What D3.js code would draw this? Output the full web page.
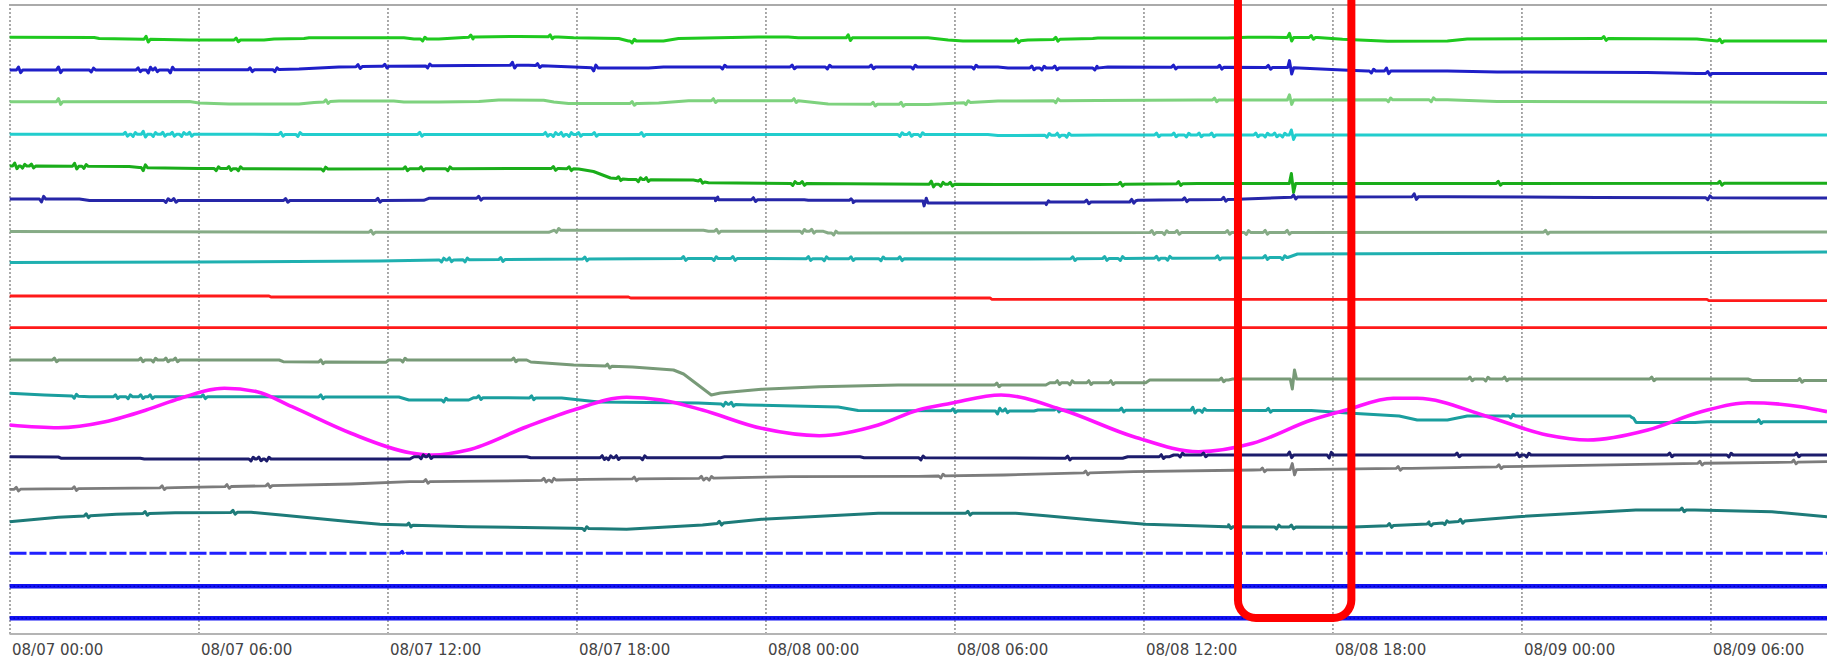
<!DOCTYPE html>
<html><head><meta charset="utf-8">
<script src="https://cdn.jsdelivr.net/npm/d3@7/dist/d3.min.js"></script>
<style>html,body{margin:0;padding:0;background:#fff;}svg{display:block;}</style>
</head><body>
<svg id="chart" width="1827" height="660"></svg>
<script>
// ---------- DATA (hours since 08/07 00:00, signal level) ----------
const tickHours = [0, 6, 12, 18, 24, 30, 36, 42, 48, 54];
const tickLabels = ["08/07 00:00","08/07 06:00","08/07 12:00","08/07 18:00","08/08 00:00","08/08 06:00","08/08 12:00","08/08 18:00","08/09 00:00","08/09 06:00"];
const highlightHours = [39.0, 42.6];
const highlightLevels = [16, 660];

const s01 = [[0,596.7],[2.69,596.5],[2.85,595.5],[5.71,594],[8.08,594],[8.4,595],[9.35,595.5],[9.51,596.3],[12.52,596.3],[12.84,595],[13.63,595],[14.42,596.5],[14.74,597],[16.17,597.5],[17.43,597],[17.91,596.2],[19.34,595.5],[19.65,593],[20.76,593],[21.24,595.5],[23.77,597],[24.72,597],[25.04,596.2],[29.16,596.2],[29.8,594],[30.27,593],[32.02,593],[32.33,594],[34.39,595.5],[34.55,596],[38.67,596],[39.31,596.7],[41.53,596.5],[42.32,594.7],[43.75,592.7],[45.65,593],[46.28,595],[50.4,595.5],[53.57,595],[54.21,593],[57.7,593]];
const n01 = [[4.37,3],[7.23,2],[13.15,-2],[14.68,2],[17.2,2],[19.8,-2],[26.66,3],[32.0,2],[33.25,2],[40.67,4],[41.36,2],[50.65,2],[54.33,2]];

const s02 = [[0,564],[8.24,564.2],[9.19,565],[10.46,567],[11.73,567.7],[14.58,568.5],[16.48,568.7],[17.91,567],[18.7,566],[20.29,566],[20.76,567],[31.38,567],[31.7,566],[34.55,566],[34.87,567],[40.58,566.5],[42.32,564],[43.11,563],[45.65,563],[47.23,562],[51.99,561.5],[53.57,560.5],[57.7,560.5]];
const n02 = [[0.32,3],[1.59,3],[2.63,-2],[4.12,2],[4.44,-3],[4.66,2],[5.14,-3],[7.67,2],[8.46,-2],[11.1,2],[11.95,2],[13.31,-2],[16.0,3],[16.8,2],[18.58,-3],[22.67,-2],[24.88,2],[26.0,-2],[27.39,2],[28.72,-2],[30.65,-2],[32.49,2],[32.81,-2],[33.22,2],[34.49,-2],[36.99,2],[38.45,2],[40.0,2],[40.67,7],[43.27,-2],[43.75,3],[53.95,2]];

const s03 = [[0,532.3],[5.71,532.5],[6.02,531],[6.97,530],[9.19,530],[9.67,531.5],[10.46,533],[12.2,533],[12.52,532],[13.63,532],[14.9,532.5],[15.53,534],[16.96,533.7],[17.28,532],[17.75,530.5],[19.97,530.5],[20.61,531],[21.56,533.3],[25.04,533.3],[25.99,530],[29.16,529.5],[31.38,533],[34.55,533.5],[37.72,534],[45.65,534.3],[47.23,532.5],[57.7,531.5]];
const n03 = [[1.59,3],[10.08,2],[19.8,2],[22.38,2],[24.94,2],[27.45,2],[28.34,2],[30.4,-2],[33.25,-2],[38.29,2],[40.67,5],[43.81,-2],[45.17,-2]];

const s04 = [[0,499.7],[21.87,499.5],[31.06,499.5],[31.38,498.5],[34.55,499],[57.7,499]];
const n04 = [[3.71,2],[3.96,-2],[4.28,3],[4.6,-2],[4.9,2],[5.2,2],[5.5,-2],[5.75,2],[8.65,2],[9.19,-2],[13.06,2],[17.05,2],[17.3,-2],[17.55,2],[17.8,-2],[18.1,2],[18.6,2],[20.1,2],[28.3,-2],[28.6,2],[28.95,-2],[32.97,-2],[33.3,2],[33.6,-2],[36.45,2],[37.0,2],[37.4,-2],[37.8,2],[38.2,2],[39.6,2],[39.9,-2],[40.2,2],[40.45,-2],[40.73,5]];

const s05 = [[0,468],[3.8,467.5],[4.12,466.5],[6.02,465.5],[10.14,465],[17.43,465.5],[18.07,465],[18.54,462.5],[19.08,456],[19.65,454.5],[21.71,454],[22.19,451.3],[25.04,450.5],[31.38,449.5],[34.55,449.5],[37.72,450.5],[57.7,450.7]];
const n05 = [[0.2,3],[0.45,-2],[0.73,2],[2.1,3],[2.4,-2],[4.28,-3],[6.6,-2],[7.0,2],[7.3,-2],[10.0,-2],[12.6,2],[13.1,2],[13.95,-2],[17.3,2],[17.8,2],[19.37,2],[20.0,-2],[20.25,2],[21.97,2],[24.9,-2],[25.2,2],[29.3,3],[29.6,-2],[29.9,2],[35.3,2],[37.15,2],[40.73,10],[47.3,2],[54.33,2]];

const s06 = [[0,435],[2.22,435],[2.54,433.5],[10.78,433.5],[13.15,433.7],[13.31,435.7],[22.41,435.7],[22.51,434.3],[25.23,434.3],[25.36,433.7],[26.66,433.7],[26.78,433],[29.0,433],[29.16,431],[32.9,431],[33.03,432],[35.56,432],[35.82,433.7],[37.72,434.3],[38.99,434.7],[40.89,437],[45.65,437.3],[50.4,436.5],[57.7,436]];
const n06 = [[1.05,-3],[5.0,-2],[5.25,2],[8.8,2],[11.73,2],[14.93,2],[22.45,-2],[23.65,2],[26.75,2],[29.07,-4],[32.95,-2],[34.23,2],[35.66,2],[37.34,2],[38.58,2],[40.8,2],[44.63,3],[53.95,-2]];

const s07 = [[0,402.5],[11.73,401.7],[17.12,401.7],[17.28,403.7],[22.03,403.7],[22.19,402.7],[25.84,402.7],[25.99,401],[37.72,401.5],[57.7,402]];
const n07 = [[11.51,2],[17.4,-2],[22.48,2],[25.2,-2],[25.5,2],[26.2,-2],[36.3,2],[36.7,-2],[37.1,2],[38.7,2],[39.3,-2],[39.9,2],[40.6,2],[48.8,2]];

const s08 = [[0,371.5],[6.02,372],[11.73,373],[13.63,374],[18.39,375],[21.87,375.5],[32.33,375],[36.13,375.7],[40.58,376.5],[40.89,380],[45.65,380.5],[50.4,381],[57.7,382]];
const n08 = [[13.75,-2],[14.0,2],[14.5,-2],[15.63,2],[18.3,2],[21.43,2],[22.4,-2],[23.0,2],[25.4,2],[25.9,-2],[26.75,2],[27.7,-2],[28.3,2],[33.79,2],[34.8,2],[35.3,-2],[36.45,2],[36.8,-2],[38.39,2],[39.9,2],[40.45,-2]];

const s09 = [[0,338],[8.24,338],[8.3,337],[19.65,337],[19.72,336],[31.13,336],[31.19,334.7],[53.89,334.7],[53.95,333.3],[57.7,333.3]];
const n09 = [];

const s10 = [[0,306.3],[57.7,306.3]];
const n10 = [];

const s11 = [[0,274],[8.56,274],[8.69,272.3],[11.95,271.7],[12.04,274],[16.42,274],[16.55,272],[17.91,269],[19.78,267],[21.08,264],[21.4,260],[22.28,239],[22.57,241],[23.87,244.7],[25.71,247.3],[28.21,249],[32.9,249],[33.03,251.3],[36.07,251.3],[36.2,254],[38.7,254],[38.83,255],[55.19,255],[55.32,253.5],[57.7,253.5]];
const n11 = [[1.46,2],[4.2,2],[4.6,-2],[5.0,2],[5.3,2],[9.92,2],[12.52,-2],[16.04,2],[19.02,2],[31.38,2],[33.3,2],[33.7,-2],[34.3,2],[35.0,2],[38.51,2],[40.76,-10],[46.4,2],[46.9,-2],[47.5,2],[52.17,2],[56.87,2]];

const s12 = [[0,240.7],[1.11,239],[2.54,237.3],[12.36,237],[12.68,234],[14.58,234],[14.74,236.3],[17.53,236],[18.7,232],[21.87,231],[23.46,229],[26.31,227],[26.94,223.5],[32.52,223],[32.65,224],[41.33,223.5],[42.48,221],[44.12,218],[44.69,214],[45.65,214],[46.28,218],[51.45,218],[51.67,211.5],[53.51,211.5],[53.89,212.3],[57.7,212.3]];
const n12 = [[2.09,-2],[3.4,2],[3.8,-2],[4.2,2],[4.5,2],[6.18,2],[9.92,2],[13.82,-2],[14.93,2],[16.61,2],[22.7,-2],[22.95,2],[29.99,2],[31.4,-3],[31.65,2],[33.28,2],[35.34,2],[37.6,3],[37.9,-2],[40.0,2],[47.7,-2],[51.6,2],[55.57,2]];

const s13 = [[0,209],[1.55,206.3],[3.04,212.3],[4.34,224],[5.26,234],[6.82,245.7],[7.86,242.3],[8.97,227.3],[10.84,200.7],[12.71,181.3],[13.44,179],[14.55,184],[16.42,207.3],[17.91,224],[19.59,236.7],[20.7,234],[22.0,224],[23.87,205.7],[25.71,198.3],[27.58,209],[28.85,224],[29.89,230.7],[31.48,239],[33.44,224],[35.69,197.3],[37.75,182.3],[39.47,190.7],[41.33,214],[42.44,224],[43.93,235.7],[44.69,235.7],[46.94,217.3],[48.81,199],[50.11,194],[52.01,204],[53.7,222.3],[55.19,231.3],[56.87,227.3],[57.7,222.3]];
const n13 = [];

const s14 = [[0,177.3],[1.55,177],[1.65,175.7],[4.15,175.7],[4.28,175],[12.71,175],[12.84,177.3],[16.42,177.3],[16.55,176.3],[22.57,176.3],[22.7,177.3],[27.0,177.3],[27.13,176.3],[35.34,175.7],[35.5,177.3],[36.83,177.3],[36.96,179],[57.7,179]];
const n14 = [[7.7,-2],[7.95,2],[8.2,-2],[13.1,-2],[13.35,2],[18.85,2],[19.05,-2],[19.3,2],[20.13,-2],[28.97,-2],[33.63,2],[36.6,2],[37.2,-2],[37.94,2],[40.67,3],[41.93,-3],[45.99,2],[47.9,2],[48.2,-2],[52.74,2],[54.62,-2],[56.77,2]];

const s15 = [[0,144.7],[5.26,146.3],[10.84,150],[12.71,152.3],[16.42,153.3],[18.29,154.7],[22.0,155.7],[24.79,157.3],[28.85,157.7],[31.57,159],[35.69,162.3],[39.47,164],[44.5,165.7],[47.51,167.3],[53.7,170.7],[57.7,172.3]];
const n15 = [[0.25,2],[2.09,2],[4.88,2],[6.94,2],[8.24,2],[13.25,2],[17.0,2],[17.25,-2],[19.87,2],[22.0,2],[22.25,-2],[29.6,-2],[34.2,2],[39.81,2],[40.76,6],[44.12,2],[47.32,2],[53.7,2],[56.68,2]];

const s16 = [[0,112.3],[1.55,116.7],[3.39,119.7],[5.26,121.3],[7.67,121.7],[8.62,119],[10.84,112.3],[11.76,109.7],[14.55,107.3],[17.91,105.7],[19.59,104.7],[22.0,109],[23.87,114.7],[27.58,120.7],[31.95,120.7],[32.9,118.3],[34.39,114],[36.07,109.7],[38.7,107.3],[42.44,106.7],[45.07,110],[47.89,117.3],[51.63,124],[53.51,124],[55.95,122.3],[57.7,117.3]];
const n16 = [[2.47,2],[4.34,2],[7.13,2],[12.71,2],[18.29,-2],[22.57,2],[30.46,2],[38.74,2],[40.26,-2],[40.73,2],[43.84,2],[45.1,2],[45.6,-2],[46.1,2],[53.13,2]];

const s17 = [[0,80.7],[57.7,80.7]];
const n17 = [[12.5,2]];
const s18 = [[0,47.7],[57.7,47.7]];
const n18 = [];
const s19 = [[0,15.8],[57.7,15.8]];
const n19 = [];

// ---------- STYLES ----------
const seriesList = [s01,s02,s03,s04,s05,s06,s07,s08,s09,s10,s11,s12,s13,s14,s15,s16,s17,s18,s19];
const glitchList = [n01,n02,n03,n04,n05,n06,n07,n08,n09,n10,n11,n12,n13,n14,n15,n16,n17,n18,n19];
const colors = ["#1fc91f","#1f1fc8","#7ed27e","#22cdcd","#1aad1a","#2626a8","#86ab86","#1fb0b0","#ff1a1a","#ff1a1a","#789a78","#1a9e9e","#ff14ff","#1c1c6c","#7c7c7c","#1d7b79","#2020ff","#1212f2","#1212f2"];
const widths = [3,3,3,3,3,3,3,3,2.8,2.8,3,3,3.6,3,2.8,3,3,4.5,4.5];

// ---------- DRAW ----------
const t0 = new Date(2024, 7, 7, 0, 0);
const toDate = h => new Date(t0.getTime() + h * 3600000);
const W = 1827, H = 660;
const x = d3.scaleTime().domain([toDate(0), toDate(57.7)]).range([9.5, 1827]);
const y = d3.scaleLinear().domain([0, 630]).range([634, 4]);

const svg = d3.select("#chart");
svg.append("rect").attr("width", W).attr("height", H).attr("fill", "#fff");

svg.append("defs").append("clipPath").attr("id", "plot")
  .append("rect").attr("x", 9.5).attr("y", 5).attr("width", W - 9.5).attr("height", 629);

// gridlines + labels via axis
const axis = d3.axisBottom(x)
  .tickValues(tickHours.map(toDate))
  .tickFormat((d, i) => tickLabels[i])
  .tickSize(-(y(0) - y(630)))
  .tickSizeOuter(0);
const gx = svg.append("g").attr("transform", `translate(0,${y(0)})`).call(axis);
gx.select(".domain").remove();
gx.selectAll(".tick line").attr("stroke", "#555").attr("stroke-width", 1).attr("stroke-dasharray", "2,2");
gx.selectAll(".tick text")
  .attr("x", 2).attr("y", 21).attr("dy", null)
  .attr("text-anchor", "start")
  .attr("fill", "#444")
  .style("font-family", "'DejaVu Sans', Verdana, sans-serif")
  .style("font-size", "15px");

// frame
svg.append("line").attr("x1", 9.5).attr("x2", W).attr("y1", y(630) + 1).attr("y2", y(630) + 1)
  .attr("stroke", "#aaa").attr("stroke-width", 2);
svg.append("line").attr("x1", 9.5).attr("x2", W).attr("y1", y(0)).attr("y2", y(0))
  .attr("stroke", "#b4b4b4").attr("stroke-width", 2);

function buildPoints(base, glitches) {
  const interp = d3.scaleLinear().domain(base.map(d => d[0])).range(base.map(d => d[1]));
  const pts = base.map(d => [d[0], d[1]]);
  glitches.forEach(([h, a]) => {
    const w = 0.1, c = 0.035;
    pts.push([h - w, interp(h - w)], [h - c, interp(h) + a], [h + c, interp(h) - a * 0.9], [h + w, interp(h + w)]);
  });
  pts.sort((p, q) => p[0] - q[0]);
  return pts;
}

const gLines = svg.append("g").attr("clip-path", "url(#plot)");
seriesList.forEach((s, i) => {
  const pts = buildPoints(s, glitchList[i]);
  const line = d3.line()
    .x(d => x(toDate(d[0])))
    .y(d => y(d[1]))
    .curve(i === 12 ? d3.curveMonotoneX : d3.curveLinear);
  const p = gLines.append("path").attr("d", line(pts))
    .attr("fill", "none").attr("stroke", colors[i]).attr("stroke-width", widths[i])
    .attr("stroke-linejoin", "round").attr("stroke-linecap", "butt");
  if (i === 16) p.attr("stroke-dasharray", "17,3");
  if (i === 17 || i === 18) {
    gLines.append("path").attr("d", line(pts)).attr("fill", "none")
      .attr("stroke", "#0000b8").attr("stroke-width", 1.2).attr("stroke-dasharray", "1.5,2.5");
  }
});

// highlight box
const hx0 = x(toDate(highlightHours[0])), hx1 = x(toDate(highlightHours[1]));
const hy0 = y(highlightLevels[1]), hy1 = y(highlightLevels[0]);
svg.append("rect")
  .attr("x", hx0).attr("y", hy0).attr("width", hx1 - hx0).attr("height", hy1 - hy0)
  .attr("rx", 18).attr("ry", 18)
  .attr("fill", "none").attr("stroke", "#ff0000").attr("stroke-width", 8);
</script>
</body></html>
